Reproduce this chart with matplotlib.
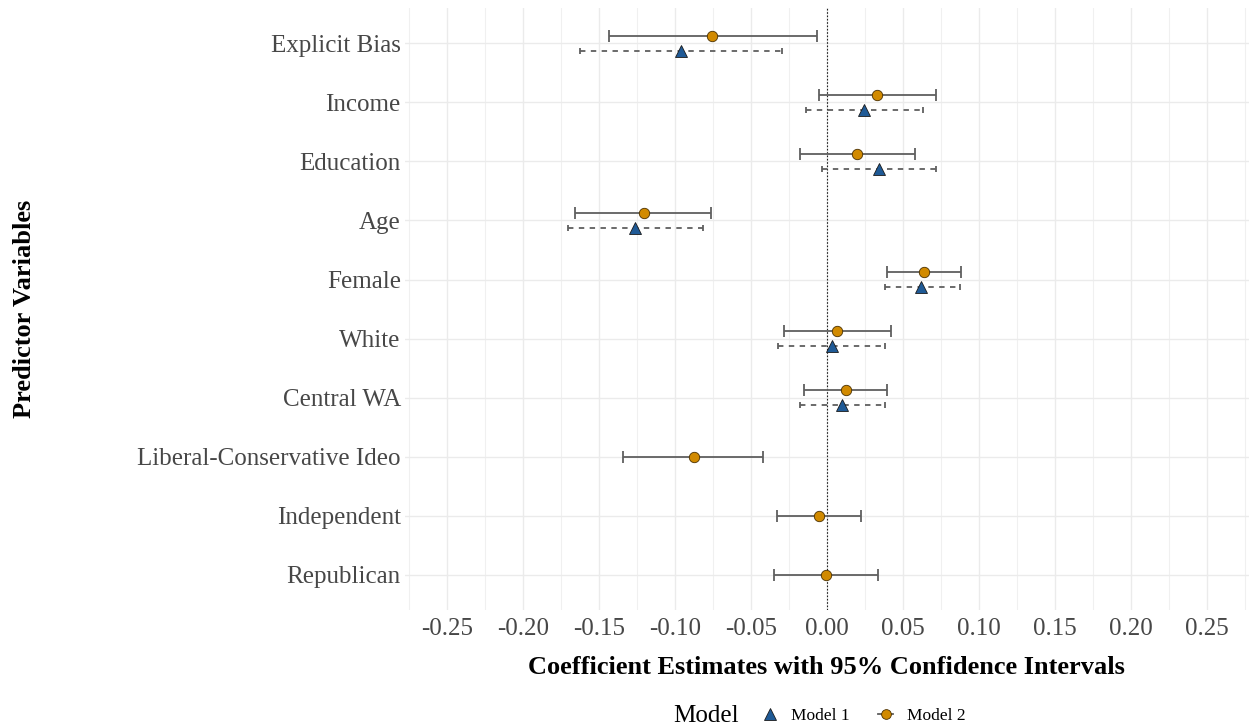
import numpy as np
import matplotlib.pyplot as plt
from matplotlib.lines import Line2D
from matplotlib.ticker import MultipleLocator

predictors = ["Explicit Bias", "Income", "Education", "Age", "Female", "White",
              "Central WA", "Liberal-Conservative Ideo", "Independent", "Republican"]
x_ticks = [-0.25, -0.20, -0.15, -0.10, -0.05, 0.00, 0.05, 0.10, 0.15, 0.20, 0.25]

# Model 1 (first seven predictors only)
m1_est = [-0.0957, 0.0246, 0.0343, -0.1263, 0.0616, 0.0033, 0.0102]
m1_lo = [-0.1623, -0.0138, -0.0029, -0.1706, 0.0380, -0.0319, -0.0175]
m1_hi = [-0.0298, 0.0631, 0.0716, -0.0817, 0.0874, 0.0382, 0.0382]

# Model 2 (all predictors)
m2_est = [-0.0754, 0.0332, 0.0199, -0.1204, 0.0642, 0.0066, 0.0124, -0.0876, -0.0055, -0.0003]
m2_lo = [-0.1431, -0.0055, -0.0180, -0.1656, 0.0397, -0.0284, -0.0153, -0.1343, -0.0326, -0.0345]
m2_hi = [-0.0068, 0.0718, 0.0581, -0.0760, 0.0885, 0.0423, 0.0397, -0.0417, 0.0225, 0.0338]

blue = "#1f5a96"
orange = "#d18a00"
bar_col = "#5f5f5f"

plt.rcParams["font.family"] = ["Liberation Serif", "DejaVu Serif"]

fig = plt.figure(figsize=(12.5, 7.28), dpi=100)
ax = fig.add_axes([0.324, 0.162, 0.675, 0.827])

n1 = len(m1_est)
n2 = len(m2_est)
dodge = 0.12

# y positions: predictors with both models are dodged, the rest centred
y2 = np.arange(n2, dtype=float)
y2[:n1] -= dodge
y1 = np.arange(n1, dtype=float) + dodge

e1 = ax.errorbar(m1_est, y1,
                 xerr=[np.array(m1_est) - np.array(m1_lo), np.array(m1_hi) - np.array(m1_est)],
                 fmt="none", ecolor=bar_col, elinewidth=1.3, capsize=2.5, capthick=1.3, zorder=3)
e1[2][0].set_linestyle((0, (3, 3)))
ax.plot(m1_est, y1, "^", ms=9, mfc=blue, mec="#1a1a1a", mew=0.6, zorder=4)

ax.errorbar(m2_est, y2,
            xerr=[np.array(m2_est) - np.array(m2_lo), np.array(m2_hi) - np.array(m2_est)],
            fmt="none", ecolor=bar_col, elinewidth=1.3, capsize=4.5, capthick=1.3, zorder=3)
ax.plot(m2_est, y2, "o", ms=7.5, mfc=orange, mec="#4a3000", mew=0.6, zorder=4)

ax.axvline(0, color="#222222", lw=0.8, ls=(0, (1.5, 1.5)), zorder=2)

ax.set_xlim(-0.2775, 0.2775)
ax.set_ylim(n2 - 1 + 0.6, -0.6)
ax.xaxis.set_minor_locator(MultipleLocator(0.025))
ax.set_xticks(x_ticks)
ax.set_xticklabels([f"{v:.2f}" for v in x_ticks])
ax.set_yticks(np.arange(n2))
ax.set_yticklabels(predictors)

ax.grid(True, which="major", color="#ebebeb", lw=1.0, zorder=0)
ax.grid(True, which="minor", axis="x", color="#f0f0f0", lw=0.8, zorder=0)
ax.set_axisbelow(True)
for s in ax.spines.values():
    s.set_visible(False)
ax.tick_params(axis="both", which="both", length=0, labelsize=18, labelcolor="#474747")
ax.tick_params(axis="y", pad=3)
ax.tick_params(axis="x", pad=6)

ax.set_xlabel("Coefficient Estimates with 95% Confidence Intervals",
              fontsize=19, fontweight="bold", labelpad=11)
fig.text(0.02, 0.162 + 0.827 / 2, "Predictor Variables", rotation=90,
         fontsize=19, fontweight="bold", ha="center", va="center")

# legend along the bottom
handles = [
    Line2D([], [], ls="none", marker="^", ms=8.5, mfc=blue, mec="#1a1a1a", mew=0.6),
    Line2D([], [], color=bar_col, lw=1.3, marker="o", ms=7, mfc=orange, mec="#4a3000", mew=0.6),
]
fig.text(0.591, 0.016, "Model", fontsize=18, ha="right", va="center")
fig.legend(handles, ["Model 1", "Model 2"], ncol=2, loc="center left",
           bbox_to_anchor=(0.597, 0.016), frameon=False, fontsize=12.5,
           handlelength=0.9, handletextpad=0.8, columnspacing=1.6)

fig.savefig("out.png", dpi=100, facecolor="white")
